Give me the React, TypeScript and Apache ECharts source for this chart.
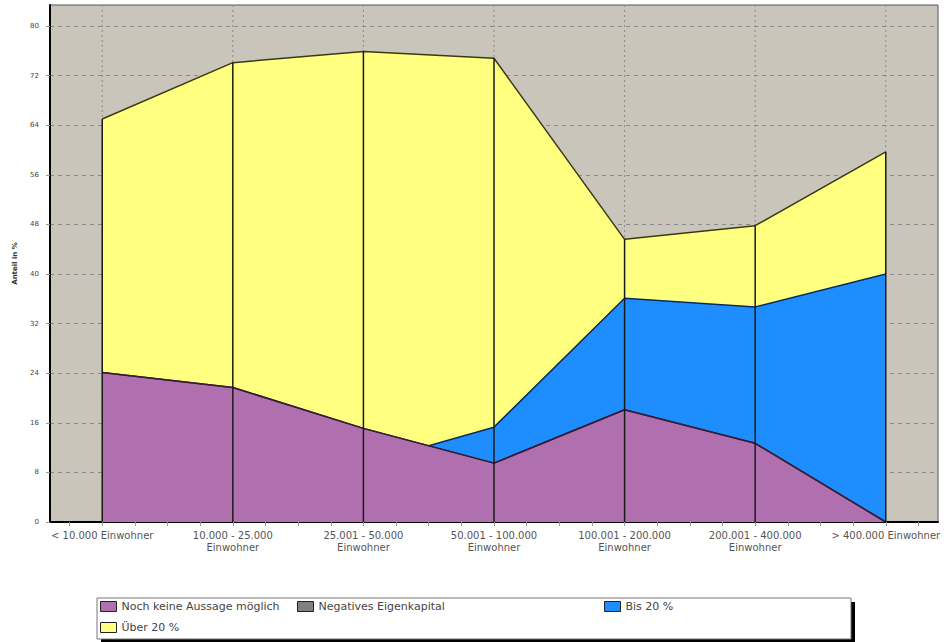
import React, { useEffect, useRef } from "react";
import * as echarts from "echarts";

// ---- data ----
const categories = [
  "< 10.000 Einwohner",
  "10.000 - 25.000\nEinwohner",
  "25.001 - 50.000\nEinwohner",
  "50.001 - 100.000\nEinwohner",
  "100.001 - 200.000\nEinwohner",
  "200.001 - 400.000\nEinwohner",
  "> 400.000 Einwohner",
];
const seriesNames = ["Noch keine Aussage möglich", "Negatives Eigenkapital", "Bis 20 %", "Über 20 %"];
const nochKeine: (number | null)[] = [24.1, 21.7, 15.1, 9.5, 18.1, 12.7, 0];
const negativ: (number | null)[] = [0, 0, 0, 0, 0, 0, 0];
const bis20: (number | null)[] = [null, null, null, 5.8, 18.0, 22.0, 40.0];
const ueber20: (number | null)[] = [40.9, 52.4, 60.8, 59.5, 9.5, 13.1, 19.7];
const yMin = 0;
const yMax = 83.4;
const yInterval = 8;
const yAxisName = "Anteil in %";

const fills = ["#B070B0", "#808080", "#1E8EFF", "#FFFF80"];
const borders = ["#3a1a3a", "#303030", "#0a2a66", "#3a3a12"];

const layers = [nochKeine, negativ, bis20, ueber20];
const n = categories.length;
const v = (a: (number | null)[], i: number) => (a[i] == null ? 0 : (a[i] as number));
const top = (k: number, i: number) => {
  let s = 0;
  for (let j = 0; j <= k; j++) s += v(layers[j], i);
  return s;
};
const base = (k: number, i: number) => (k === 0 ? 0 : top(k - 1, i));
// stacked outline of a layer; an empty point starts/ends its area half way to the neighbour (as in the source chart)
const layerPoints = (k: number) => {
  const arr = layers[k];
  const pts: number[][] = [];
  for (let i = 0; i < n; i++) {
    if (arr[i] == null) continue;
    if (i > 0 && arr[i - 1] == null) pts.push([i - 0.5, (base(k, i - 1) + base(k, i)) / 2]);
    pts.push([i, top(k, i)]);
    if (i < n - 1 && arr[i + 1] == null) pts.push([i + 0.5, (base(k, i) + base(k, i + 1)) / 2]);
  }
  return pts;
};
const totals = categories.map((_, i) => [i, top(layers.length - 1, i)]);

const FONT = "DejaVu Sans";

export default function App() {
  const ref = useRef<HTMLDivElement>(null);
  useEffect(() => {
    if (!ref.current) return;
    const chart = echarts.init(ref.current, undefined, { renderer: "svg" });
    const tickVals: number[] = [];
    for (let t = -1; t <= 25; t++) tickVals.push(t / 4);
    const areaSeries = [3, 2, 1, 0].map((k) => ({
      name: seriesNames[k],
      type: "line",
      data: layerPoints(k),
      symbol: "none",
      z: 2,
      itemStyle: { color: fills[k] },
      lineStyle: { color: borders[k], width: 1.5 },
      areaStyle: { color: fills[k], opacity: 1 },
    }));
    const legendPos = [
      { left: 100, top: 601 },
      { left: 297, top: 601 },
      { left: 604, top: 601 },
      { left: 100, top: 622 },
    ];
    chart.setOption({
      animation: false,
      backgroundColor: "#ffffff",
      textStyle: { fontFamily: FONT },
      grid: {
        left: 50,
        right: 6,
        top: 5,
        bottom: 120,
        show: true,
        backgroundColor: "#C9C5BA",
        borderColor: "#555",
        borderWidth: 1,
      },
      xAxis: {
        type: "value",
        min: -0.4,
        max: 6.4,
        axisLine: { show: true, onZero: false, lineStyle: { color: "#000", width: 2 } },
        axisTick: { show: true, customValues: tickVals, length: 4, lineStyle: { color: "#999" } },
        axisLabel: {
          customValues: categories.map((_, i) => i),
          formatter: (val: number) => categories[Math.round(val)] ?? "",
          fontSize: 10,
          lineHeight: 12,
          color: "#555",
          margin: 7,
          fontFamily: FONT,
        },
        splitLine: { show: false },
      },
      yAxis: {
        type: "value",
        min: yMin,
        max: yMax,
        interval: yInterval,
        name: yAxisName,
        nameLocation: "middle",
        nameRotate: 90,
        nameGap: 32,
        nameTextStyle: { fontSize: 7, fontWeight: "bold", color: "#333", fontFamily: FONT },
        axisLine: { show: true, onZero: false, lineStyle: { color: "#000", width: 2 } },
        axisTick: { show: true, length: 4, lineStyle: { color: "#999" } },
        axisLabel: { fontSize: 7, color: "#444", margin: 11, showMaxLabel: false, fontFamily: FONT },
        splitLine: { show: true, lineStyle: { color: "#8a8a8a", type: [4, 4], width: 1 } },
      },
      legend: seriesNames.map((name, i) => ({
        data: [name],
        left: legendPos[i].left,
        top: legendPos[i].top,
        orient: "horizontal",
        padding: 0,
        icon: "rect",
        itemWidth: 16,
        itemHeight: 10,
        itemGap: 5,
        selectedMode: false,
        itemStyle: { borderColor: "#222", borderWidth: 1 },
        textStyle: { fontSize: 11, color: "#444", fontFamily: FONT },
      })),
      graphic: [
        { type: "rect", z: 0, shape: { x: 101, y: 602, width: 754, height: 41 }, style: { fill: "#000" } },
        { type: "rect", z: 1, shape: { x: 97, y: 598, width: 754, height: 41 }, style: { fill: "#fff", stroke: "#777", lineWidth: 1 } },
      ],
      series: [
        {
          type: "custom",
          name: "vgrid",
          z: 1,
          silent: true,
          data: categories.map((_, i) => [i]),
          renderItem: (params: any, api: any) => {
            const x = api.value(0);
            const p0 = api.coord([x, yMin]);
            const p1 = api.coord([x, yMax]);
            return {
              type: "line",
              shape: { x1: p0[0], y1: p0[1], x2: p1[0], y2: p1[1] },
              style: { stroke: "#8a8a8a", lineWidth: 1, lineDash: [2, 3] },
            };
          },
        },
        ...areaSeries,
        {
          type: "custom",
          name: "catlines",
          z: 3,
          silent: true,
          data: totals,
          renderItem: (params: any, api: any) => {
            const x = api.value(0);
            const t = api.value(1);
            const p0 = api.coord([x, 0]);
            const p1 = api.coord([x, t]);
            return {
              type: "line",
              shape: { x1: p0[0], y1: p0[1], x2: p1[0], y2: p1[1] },
              style: { stroke: "#1a1a1a", lineWidth: 1.5 },
            };
          },
        },
      ],
    });
    return () => chart.dispose();
  }, []);
  return (
    <div
      ref={ref}
      style={{ position: "fixed", left: 0, top: 0, width: 944, height: 642, background: "#fff" }}
    />
  );
}
